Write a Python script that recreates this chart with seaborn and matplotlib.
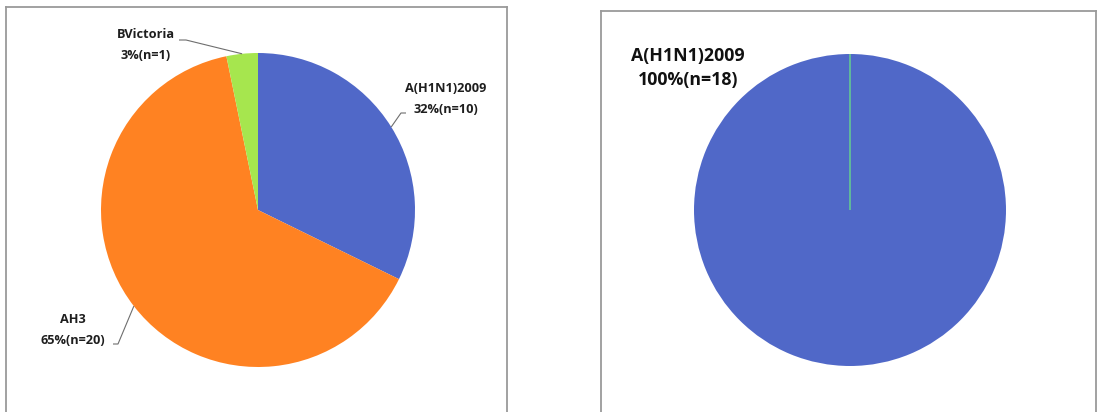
import numpy as np
import matplotlib
matplotlib.use("Agg")
import matplotlib.pyplot as plt
import seaborn as sns

# ---- data ----
left_categories = ["A(H1N1)2009", "AH3", "BVictoria"]
left_counts = [10, 20, 1]
left_pct_labels = ["32%(n=10)", "65%(n=20)", "3%(n=1)"]

right_categories = ["A(H1N1)2009", "AH3", "BVictoria"]
right_counts = [18, 0, 0]
right_pct_labels = ["100%(n=18)", "", ""]

slice_colors = ["#5068C8", "#FF8222", "#A6E64E"]

sns.set_theme(style="white")
plt.rcParams["font.family"] = ["Open Sans", "DejaVu Sans"]

W, H = 1097, 412
fig = plt.figure(figsize=(W / 100, H / 100), dpi=100)


def make_axes(left_px, right_px, top_px, bottom_px, cx, cy, r):
    ax = fig.add_axes([left_px / W, 1 - bottom_px / H,
                       (right_px - left_px) / W, (bottom_px - top_px) / H])
    return ax, (left_px, right_px, top_px, bottom_px, cx, cy, r)


def finish(ax, geom):
    left_px, right_px, top_px, bottom_px, cx, cy, r = geom
    ax.set_xlim((left_px - cx) / r, (right_px - cx) / r)
    ax.set_ylim((cy - bottom_px) / r, (cy - top_px) / r)
    ax.set_aspect("auto")
    ax.set_frame_on(True)
    for s in ax.spines.values():
        s.set_visible(True)
        s.set_color("#9A9A9A")
        s.set_linewidth(1.3)
    ax.set_xticks([])
    ax.set_yticks([])


def px(geom, x, y):
    _, _, _, _, cx, cy, r = geom
    return (x - cx) / r, (cy - y) / r


# ---- left panel ----
axL, gL = make_axes(6, 507, 7, 425, 258, 210, 157)
wedgesL, _ = axL.pie(left_counts, colors=slice_colors, startangle=90,
                     counterclock=False, radius=1.0,
                     wedgeprops=dict(linewidth=0))
finish(axL, gL)

label_pos = {0: (446, 99), 1: (73, 330), 2: (146, 45)}
elbows = {0: [(406, 113), (401, 113)],
          1: [(113, 344), (118, 344)],
          2: [(179, 40), (186, 40)]}
for i, w in enumerate(wedgesL):
    tx, ty = px(gL, *label_pos[i])
    axL.text(tx, ty, f"{left_categories[i]}\n{left_pct_labels[i]}",
             ha="center", va="center", fontsize=9.2, fontweight="bold",
             color="#1E1E1E", linespacing=1.75)
    mid = np.deg2rad((w.theta1 + w.theta2) / 2)
    ex, ey = np.cos(mid), np.sin(mid)
    pts = [px(gL, *p) for p in elbows[i]] + [(ex, ey)]
    axL.plot([p[0] for p in pts], [p[1] for p in pts], color="#6E6E6E",
             lw=0.8, solid_capstyle="butt")

# ---- right panel ----
axR, gR = make_axes(601, 1096, 11, 425, 850, 210, 156)
wedgesR, _ = axR.pie(right_counts, colors=slice_colors, startangle=90,
                     counterclock=False, radius=1.0,
                     wedgeprops=dict(linewidth=0))
wedgesR[2].set_edgecolor("#66D98A")
wedgesR[2].set_linewidth(1.0)
finish(axR, gR)

tx, ty = px(gR, 688, 68)
axR.text(tx, ty, f"{right_categories[0]}\n{right_pct_labels[0]}",
         ha="center", va="center", fontsize=12.8, fontweight="bold",
         color="#111111", linespacing=1.45)

fig.savefig("out.png", dpi=100)
